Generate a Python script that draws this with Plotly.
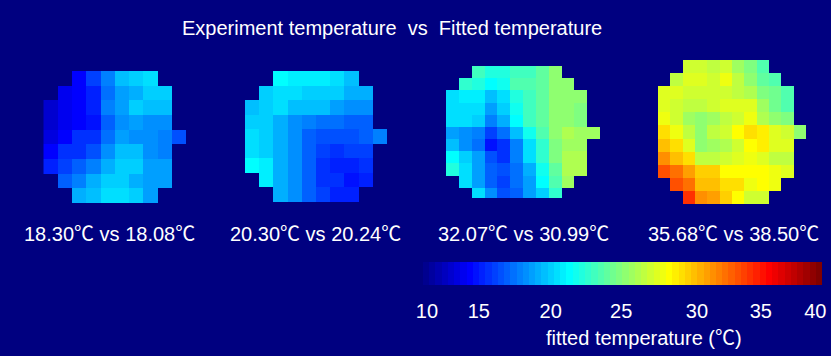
import plotly.graph_objects as go

N = None
W, H = 831, 356

panel1 = [
    [N, N, 13.3, 15.2, 17.1, 19.1, 19.5, 20.3, N, N],
    [N, 12.9, 13.4, 14.3, 16.6, 18.4, 18.9, 19.7, 19.7, N],
    [12.0, 12.9, 13.4, 14.3, 17.1, 18.4, 19.5, 19.1, 19.1, N],
    [12.2, 13.0, 13.3, 14.0, 16.2, 17.8, 18.4, 17.8, 17.8, N],
    [12.6, 13.3, 14.8, 14.7, 16.7, 18.4, 17.6, 17.6, 17.2, 16.0],
    [13.5, 14.8, 15.0, 16.0, 17.8, 19.2, 19.2, 17.8, 17.2, N],
    [14.4, 15.4, 16.2, 17.3, 18.9, 19.7, 19.7, 18.4, 18.0, N],
    [N, 16.4, 17.4, 18.5, 19.7, 19.7, 18.9, 18.4, 18.0, N],
    [N, N, 18.9, 19.2, 20.3, 20.3, 19.5, 18.4, N, N],
]
panel2 = [
    [N, N, 21.0, 20.6, 20.6, 20.6, 20.0, 19.1, N, N],
    [N, 19.5, 20.0, 20.0, 19.5, 19.5, 19.5, 18.6, 18.6, N],
    [19.1, 19.5, 20.0, 19.2, 19.1, 19.1, 18.4, 17.9, 17.9, N],
    [19.5, 19.5, 18.7, 17.6, 17.2, 16.7, 16.7, 16.3, 16.3, N],
    [20.0, 19.5, 18.7, 17.6, 16.3, 15.8, 15.8, 15.8, 16.4, 17.2],
    [20.0, 19.5, 18.7, 17.6, 16.3, 15.4, 14.8, 15.4, 15.4, N],
    [21.0, 20.7, 18.7, 17.6, 16.3, 15.0, 14.4, 14.4, 14.9, N],
    [N, 20.7, 18.7, 17.6, 16.3, 15.0, 14.7, 13.9, 14.4, N],
    [N, N, 18.7, 17.6, 16.3, 15.4, 14.4, 14.4, N, N],
]
panel3 = [
    [N, N, 22.8, 21.9, 21.8, 23.0, 23.0, 23.6, 25.2, N, N, N],
    [N, 22.2, 22.0, 21.0, 21.6, 23.3, 23.5, 23.9, 25.3, 25.3, N, N],
    [20.1, 20.6, 20.6, 19.0, 20.3, 21.9, 23.0, 23.9, 25.0, 25.0, 25.0, N],
    [20.1, 20.1, 20.1, 18.3, 19.8, 21.3, 23.0, 23.9, 25.0, 25.0, 24.6, N],
    [20.1, 20.1, 19.5, 17.4, 18.9, 21.0, 23.0, 23.8, 25.2, 25.3, 24.9, N],
    [18.4, 17.8, 17.2, 15.4, 16.8, 19.2, 21.6, 23.5, 25.2, 26.1, 25.5, 25.5],
    [19.0, 17.8, 16.8, 14.2, 14.8, 17.2, 20.0, 22.2, 24.7, 25.5, 25.5, N],
    [21.0, 19.5, 18.3, 16.0, 15.1, 17.4, 20.0, 22.6, 24.7, 26.0, 26.0, N],
    [21.9, 20.1, 18.4, 16.5, 15.7, 16.9, 18.7, 21.4, 23.7, 26.0, 26.0, N],
    [N, 20.1, 18.4, 16.5, 15.6, 16.9, 18.4, 21.0, 23.3, 25.5, N, N],
    [N, N, 20.1, 17.5, 15.9, 16.3, 18.0, 19.8, 22.6, N, N, N],
]
panel4 = [
    [N, N, 27.0, 27.0, 26.7, 26.9, 25.8, 24.6, 23.2, N, N, N],
    [N, 26.8, 27.6, 27.6, 27.0, 27.9, 26.6, 25.0, 24.0, 23.2, N, N],
    [27.7, 27.7, 27.1, 27.1, 27.1, 27.1, 26.5, 26.2, 24.6, 24.3, 23.2, N],
    [27.6, 27.0, 26.5, 26.5, 27.1, 27.7, 27.7, 27.7, 25.8, 24.1, 23.2, N],
    [28.2, 27.1, 25.8, 25.0, 25.9, 26.7, 27.3, 28.2, 26.2, 25.3, 24.6, N],
    [29.6, 28.2, 26.7, 25.0, 26.7, 27.1, 28.3, 29.5, 28.8, 27.7, 27.0, 25.0],
    [30.5, 29.3, 27.7, 25.0, 25.9, 26.2, 27.1, 28.6, 28.8, 27.4, 27.4, N],
    [31.9, 30.5, 29.5, 26.8, 26.8, 27.1, 27.7, 28.0, 27.7, 26.7, 26.7, N],
    [33.8, 32.9, 31.4, 29.8, 29.8, 28.6, 28.6, 28.6, 28.6, 28.2, 27.7, N],
    [N, 33.8, 32.9, 30.5, 30.5, 29.3, 29.3, 28.2, 28.6, 28.2, N, N],
    [N, N, 34.7, 31.9, 31.3, 29.8, 28.6, 27.1, 27.1, N, N, N],
]
panel_captions = ["18.30℃ vs 18.08℃", "20.30℃ vs 20.24℃", "32.07℃ vs 30.99℃", "35.68℃ vs 38.50℃"]
colorbar_tick_values = [10.3, 14.2, 19.6, 24.9, 30.6, 35.4, 39.5]
colorbar_tick_labels = ["10", "15", "20", "25", "30", "35", "40"]

BG = "#000080"
FONT = "Liberation Sans, Arial, Noto Sans CJK SC, sans-serif"
# pixel boxes: left, right, top, bottom, number of rows shown
boxes = [
    (43.3, 186, 71, 203, 9),
    (245, 387, 71, 202, 9),
    (446, 600, 66, 198, 10.83),
    (658, 806, 60, 204, 11),
]
caption_x = [109, 315, 523, 733]
caption_y = 234

JET = [(0, (0, 0, 143)), (7 / 63, (0, 0, 255)), (23 / 63, (0, 255, 255)), (39 / 63, (255, 255, 0)),
       (55 / 63, (255, 0, 0)), (1, (128, 0, 0))]


def jet(p):
    for (a, ca), (b, cb) in zip(JET, JET[1:]):
        if p <= b:
            t = (p - a) / (b - a)
            return "rgb(%d,%d,%d)" % tuple(round(u + (v - u) * t) for u, v in zip(ca, cb))
    return "rgb(128,0,0)"


colorscale = []
for i in range(64):
    c = jet(i / 63)
    colorscale += [[i / 64, c], [(i + 1) / 64, c]]

fig = go.Figure()
layout = dict(
    width=W, height=H, margin=dict(l=0, r=0, t=0, b=0), paper_bgcolor=BG, plot_bgcolor=BG,
    font=dict(family=FONT, color="white"), showlegend=False,
    coloraxis=dict(
        cmin=10, cmax=40, colorscale=colorscale,
        colorbar=dict(
            orientation="h", lenmode="pixels", len=399, thicknessmode="pixels", thickness=23,
            x=423 / W, xanchor="left", y=1 - 262 / H, yanchor="top", xpad=0, ypad=0,
            outlinewidth=0, tickmode="array", tickvals=colorbar_tick_values, ticktext=colorbar_tick_labels,
            ticks="outside", ticklen=9, tickcolor=BG, ticklabelposition="outside bottom",
            tickfont=dict(size=20, color="white"), tickangle=0,
        ),
    ),
)
for k, (panel, box) in enumerate(zip([panel1, panel2, panel3, panel4], boxes), start=1):
    l, r, t, b, nrows = box
    fig.add_trace(go.Heatmap(z=panel, coloraxis="coloraxis", xaxis=f"x{k}", yaxis=f"y{k}", hoverongaps=False))
    layout[f"xaxis{k}"] = dict(domain=[l / W, r / W], range=[-0.5, len(panel[0]) - 0.5], visible=False,
                               anchor=f"y{k}")
    layout[f"yaxis{k}"] = dict(domain=[1 - b / H, 1 - t / H], range=[nrows - 0.5, -0.5], visible=False,
                               anchor=f"x{k}")
fig.update_layout(**layout)

fig.add_annotation(text="Experiment temperature  vs  Fitted temperature", x=392 / W, y=1 - 28 / H,
                   xref="paper", yref="paper", showarrow=False, xanchor="center", yanchor="middle",
                   font=dict(size=20, color="white"))
for x, cap in zip(caption_x, panel_captions):
    fig.add_annotation(text=cap, x=x / W, y=1 - caption_y / H, xref="paper", yref="paper",
                       showarrow=False, xanchor="center", yanchor="middle", font=dict(size=20, color="white"))
fig.add_annotation(text="fitted temperature (℃)", x=644 / W, y=1 - 338 / H, xref="paper", yref="paper",
                   showarrow=False, xanchor="center", yanchor="middle", font=dict(size=20, color="white"))
for y0, y1 in [(262, 264), (283, 285)]:
    fig.add_shape(type="line", xref="paper", yref="paper", x0=479 / W, x1=479 / W, y0=1 - y0 / H, y1=1 - y1 / H,
                  line=dict(color="black", width=1))

fig.write_html("out.html", config={"displayModeBar": False},
               post_script="document.body.style.margin='0';document.body.style.overflow='hidden';")
